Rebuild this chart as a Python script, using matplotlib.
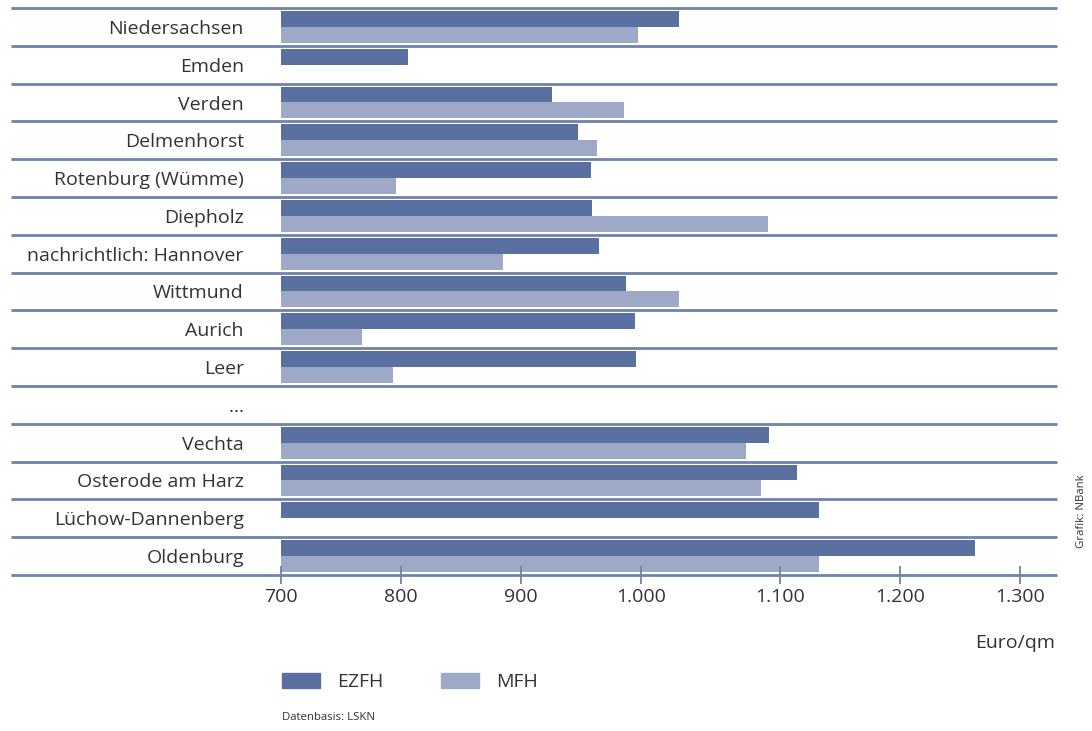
import numpy as np
import matplotlib
matplotlib.use("Agg")
import matplotlib.pyplot as plt
from matplotlib.patches import Patch

# data (Euro/qm)
regions = ["Niedersachsen", "Emden", "Verden", "Delmenhorst", "Rotenburg (Wümme)",
           "Diepholz", "nachrichtlich: Hannover", "Wittmund", "Aurich", "Leer", "…",
           "Vechta", "Osterode am Harz", "Lüchow-Dannenberg", "Oldenburg"]
ezfh = [1027, 806, 926, 947, 958, 959, 965, 987, 995, 996, np.nan, 1092, 1114, 1132, 1262]
mfh = [997, np.nan, 986, 963, 796, 1091, 885, 1027, 767, 793, np.nan, 1075, 1086, np.nan, 1132]
ticks = [700, 800, 900, 1000, 1100, 1200, 1300]
tick_labels = ["700", "800", "900", "1.000", "1.100", "1.200", "1.300"]

c_ezfh = "#5a70a0"
c_mfh = "#9ea9c8"
c_line = "#6f82ae"
c_text = "#333333"

plt.rcParams["font.family"] = ["Open Sans", "DejaVu Sans"]
fs = 14

# the printed axis has a wider step between 1.000 and 1.100
stretch = 139 / 120


def fwd(v):
    v = np.asarray(v, dtype=float)
    return v + (stretch - 1) * np.clip(v - 1000, 0, 100)


def inv(u):
    u = np.asarray(u, dtype=float)
    top = 1000 + 100 * stretch
    return np.where(u <= 1000, u,
                    np.where(u <= top, 1000 + (u - 1000) / stretch, u - (top - 1100)))


fig = plt.figure(figsize=(10.92, 7.31), dpi=100)
ax = fig.add_axes([281.3 / 1092, 1 - 575 / 731, (1057 - 281.3) / 1092, 567 / 731])
ax.set_xscale("function", functions=(fwd, inv))

y = np.arange(len(regions))
ax.barh(y - 0.21, np.array(ezfh) - 700, left=700, height=0.42, color=c_ezfh, label="EZFH")
ax.barh(y + 0.21, np.array(mfh) - 700, left=700, height=0.42, color=c_mfh, label="MFH")

ax.set_xlim(700, 1330.6)
ax.set_ylim(len(regions) - 0.5, -0.5)

# row separators, running under the labels too
ax.hlines(np.arange(len(regions) + 1) - 0.5, -0.349, 1, transform=ax.get_yaxis_transform(),
          color=c_line, lw=2, clip_on=False)

for s in ax.spines.values():
    s.set_visible(False)

ax.set_xticks(ticks)
ax.set_xticklabels(tick_labels)
ax.xaxis.set_minor_locator(matplotlib.ticker.NullLocator())
ax.tick_params(axis="x", direction="inout", length=13, width=1.3, color=c_line,
               labelsize=fs, labelcolor=c_text, pad=3)
ax.set_yticks(y)
ax.set_yticklabels(regions)
ax.tick_params(axis="y", length=0, pad=27, labelsize=fs, labelcolor=c_text)

fig.text(1055 / 1092, 1 - 643 / 731, "Euro/qm", ha="right", va="center", fontsize=fs, color=c_text)
fig.text(282 / 1092, 1 - 717 / 731, "Datenbasis: LSKN", ha="left", va="center", fontsize=8.2, color=c_text)
fig.text(1081 / 1092, 1 - 511 / 731, "Grafik: NBank", rotation=90, ha="center", va="center",
         fontsize=8.2, color=c_text)

handles = [Patch(color=c_ezfh), Patch(color=c_mfh)]
fig.legend(handles, ["EZFH", "MFH"], loc="center left", bbox_to_anchor=(282 / 1092, 1 - 682 / 731),
           ncol=2, frameon=False, fontsize=fs, handlelength=1.96, handleheight=0.78,
           handletextpad=0.88, columnspacing=2.95, borderpad=0, borderaxespad=0, labelcolor=c_text)

fig.savefig("out.png", dpi=100, facecolor="white")
